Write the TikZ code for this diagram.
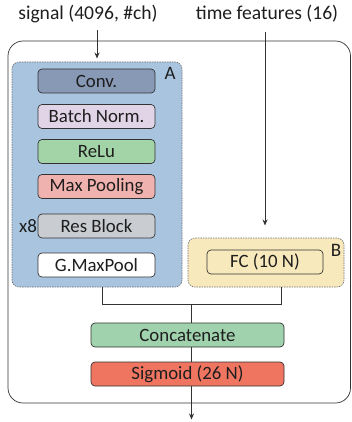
\documentclass[tikz,border=0pt]{standalone}
\usepackage{fontspec}
\setmainfont{Carlito}
\usetikzlibrary{arrows.meta}
\definecolor{txt}{HTML}{1E1E1E}
\definecolor{ln}{HTML}{333333}
\definecolor{fillA}{HTML}{A9C4DF}
\definecolor{fillB}{HTML}{F8E9BC}
\definecolor{cconv}{HTML}{8799B5}
\definecolor{cbn}{HTML}{E1D4E7}
\definecolor{crelu}{HTML}{A3D4A8}
\definecolor{cpool}{HTML}{F0B2AE}
\definecolor{cres}{HTML}{C9CCD1}
\definecolor{ccat}{HTML}{A0D2AE}
\definecolor{csig}{HTML}{EF7561}
\tikzset{
  layer/.style={draw=ln, line width=0.7pt, rounded corners=4pt, minimum height=24pt,
    inner sep=0pt, text=txt, font=\fontsize{18.8}{21}\selectfont},
  group/.style={draw=ln!70, line width=0.6pt, dash pattern=on 1.5pt off 1pt, rounded corners=7pt},
  lbl/.style={text=txt, font=\fontsize{19.6}{22}\selectfont, inner sep=0pt},
  conn/.style={draw=ln, line width=0.8pt},
  arr/.style={conn, -{Stealth[length=6pt,width=5pt]}}
}
\begin{document}
\begin{tikzpicture}[x=1pt,y=-1pt]
\useasboundingbox (0,0) rectangle (352,422);
% outer frame
\draw[draw=ln, line width=0.7pt, rounded corners=15pt] (8,41) rectangle (350.5,403);
% groups
\draw[group, fill=fillA] (12,62) rectangle (182,287);
\draw[group, fill=fillB] (188,238) rectangle (344,287);
\node[lbl, font=\fontsize{19}{21}\selectfont] (la) at (170,73) {A};
\node[lbl, font=\fontsize{19}{21}\selectfont] (lb) at (336,250) {B};
% top labels
\node[lbl] (sig) at (88,14) {signal (4096, \#ch)};
\node[lbl] (tf) at (267,14) {time features (16)};
% layers in A
\node[layer, fill=cconv, minimum width=117pt] (conv) at (96.5,81) {Conv.};
\node[layer, fill=cbn, minimum width=117pt] (bn) at (96.5,116.5) {Batch Norm.};
\node[layer, fill=crelu, minimum width=117pt] (relu) at (96.5,151.5) {ReLu};
\node[layer, fill=cpool, minimum width=117pt] (pool) at (96.5,186.5) {Max Pooling};
\node[layer, fill=cres, minimum width=117pt] (res) at (96.5,226) {Res Block};
\node[layer, fill=white, minimum width=117pt] (gmp) at (96.5,265) {G.MaxPool};
\node[lbl, font=\fontsize{19}{21}\selectfont] (x8) at (28,226) {x8};
% FC
\node[layer, fill=fillB, minimum width=116pt] (fc) at (265,262) {FC (10 N)};
% bottom
\node[layer, fill=ccat, minimum width=193pt] (cat) at (187.5,335) {Concatenate};
\node[layer, fill=csig, minimum width=193pt] (sgm) at (187.5,374) {Sigmoid (26 N)};
% connectors
\coordinate (aout) at (102,287);
\coordinate (bout) at (281,287);
\coordinate (jl) at (102,304);
\coordinate (jr) at (281,304);
\coordinate (jm) at (191.5,304);
\coordinate (catin) at (191.5,323);
\coordinate (sigtop) at (97,30);
\coordinate (sigend) at (97,58.5);
\coordinate (tftop) at (265,32);
\coordinate (tfend) at (265,225.5);
\coordinate (outend) at (191.5,419.5);
\draw[arr] (sigtop) -- (sigend);
\draw[arr] (tftop) -- (tfend);
\draw[conn] (aout) -- (jl) -- (jr) -- (bout);
\draw[conn] (jm) -- (catin);
\draw[conn] (cat.south -| jm) -- (sgm.north -| jm);
\draw[arr] (sgm.south -| jm) -- (outend);
\end{tikzpicture}
\end{document}
